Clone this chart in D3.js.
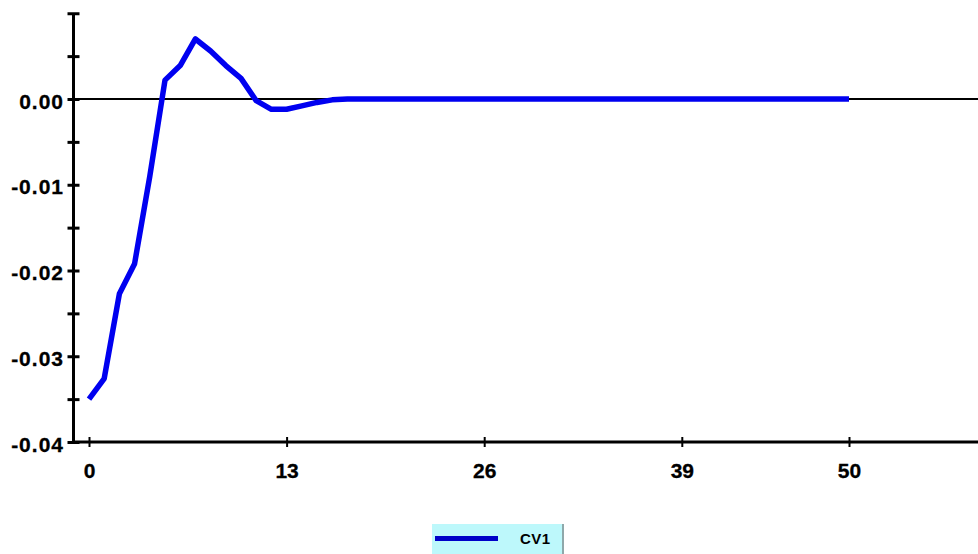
<!DOCTYPE html>
<html>
<head>
<meta charset="utf-8">
<script src="https://cdn.jsdelivr.net/npm/d3@7"></script>
<style>
  html, body { margin: 0; padding: 0; background: #ffffff; }
  svg { display: block; }
  .lbl { font-family: "Liberation Sans", Arial, sans-serif; font-weight: bold; font-size: 21px; fill: #000; stroke: #000; stroke-width: 0.3px; }
  .leg { font-family: "Liberation Sans", Arial, sans-serif; font-weight: bold; font-size: 15px; fill: #000; }
</style>
</head>
<body>
<svg id="chart" width="978" height="554"></svg>
<script>
// ---- data ----
const steps = d3.range(0, 51);
const cv1 = [
  -0.0350, -0.0326, -0.0227, -0.0192, -0.0090, 0.0022, 0.0039, 0.0070, 0.0056, 0.0039,
   0.0024, -0.0002, -0.0012, -0.0012, -0.0008, -0.0004, -0.0001, 0.0000, 0.0000, 0.0000,
   0.0000, 0.0000, 0.0000, 0.0000, 0.0000, 0.0000, 0.0000, 0.0000, 0.0000, 0.0000,
   0.0000, 0.0000, 0.0000, 0.0000, 0.0000, 0.0000, 0.0000, 0.0000, 0.0000, 0.0000,
   0.0000, 0.0000, 0.0000, 0.0000, 0.0000, 0.0000, 0.0000, 0.0000, 0.0000, 0.0000,
   0.0000
];
const xTickValues = [0, 13, 26, 39, 50];
const yTickValues = [-0.04, -0.035, -0.03, -0.025, -0.02, -0.015, -0.01, -0.005, 0.0, 0.005, 0.01];
const yLabelValues = [-0.04, -0.03, -0.02, -0.01, 0.0];
const seriesName = "CV1";

// ---- layout ----
const svg = d3.select("#chart");
const x = d3.scaleLinear().domain([0, 50]).range([89, 849]);
const y = d3.scaleLinear().domain([-0.04, 0.01]).range([442, 13.25]);
const axisX0 = 73.5;

// zero line
svg.append("line")
  .attr("x1", axisX0).attr("x2", 978)
  .attr("y1", y(0)).attr("y2", y(0))
  .attr("stroke", "#000").attr("stroke-width", 2);

// y axis
const yAxis = d3.axisLeft(y)
  .tickValues(yTickValues)
  .tickSize(0)
  .tickFormat(d => yLabelValues.some(v => Math.abs(v - d) < 1e-9) ? d3.format(".2f")(d).replace("\u2212", "-") : "");
const gy = svg.append("g").attr("transform", `translate(${axisX0},0)`).call(yAxis);
gy.select(".domain").remove();
gy.selectAll(".tick line")
  .attr("x1", -6).attr("x2", 6)
  .attr("stroke", "#000").attr("stroke-width", 3);
gy.selectAll(".tick text")
  .attr("class", "lbl")
  .attr("x", -9.5)
  .attr("y", 1.5)
  .attr("dy", "0.36em")
  .style("letter-spacing", "1px")
  .attr("text-anchor", "end");
svg.append("line")
  .attr("x1", axisX0).attr("x2", axisX0)
  .attr("y1", y(0.01)).attr("y2", y(-0.04) + 1.5)
  .attr("stroke", "#000").attr("stroke-width", 3);

// x axis
const xAxis = d3.axisBottom(x).tickValues(xTickValues).tickSize(0).tickFormat(d3.format("d"));
const gx = svg.append("g").attr("transform", `translate(0,${y(-0.04)})`).call(xAxis);
gx.select(".domain").remove();
gx.selectAll(".tick line")
  .attr("y1", -5).attr("y2", 5)
  .attr("stroke", "#000").attr("stroke-width", 2);
gx.selectAll(".tick text")
  .attr("class", "lbl")
  .attr("y", 36)
  .attr("dy", "0")
  .attr("text-anchor", "middle");
svg.append("line")
  .attr("x1", axisX0 - 1.5).attr("x2", 978)
  .attr("y1", y(-0.04)).attr("y2", y(-0.04))
  .attr("stroke", "#000").attr("stroke-width", 3);

// series line
const line = d3.line().x((d, i) => x(steps[i])).y(d => y(d));
svg.append("path")
  .datum(cv1)
  .attr("d", line)
  .attr("fill", "none")
  .attr("stroke", "#0000f0")
  .attr("stroke-width", 5.5)
  .attr("stroke-linejoin", "round");

// legend
const leg = svg.append("g").attr("transform", "translate(432,524)");
leg.append("rect").attr("x", 0).attr("y", 0).attr("width", 131).attr("height", 30).attr("fill", "#bdf8fb");
leg.append("line").attr("x1", 131).attr("x2", 131).attr("y1", 0).attr("y2", 30).attr("stroke", "#8fa8aa").attr("stroke-width", 2);
leg.append("line").attr("x1", 3).attr("x2", 66).attr("y1", 14.5).attr("y2", 14.5).attr("stroke", "#0000c8").attr("stroke-width", 5);
leg.append("text").attr("class", "leg").attr("x", 88).attr("y", 14.5).attr("dy", "0.36em")
  .style("letter-spacing", "0.5px").text(seriesName);
</script>
</body>
</html>
